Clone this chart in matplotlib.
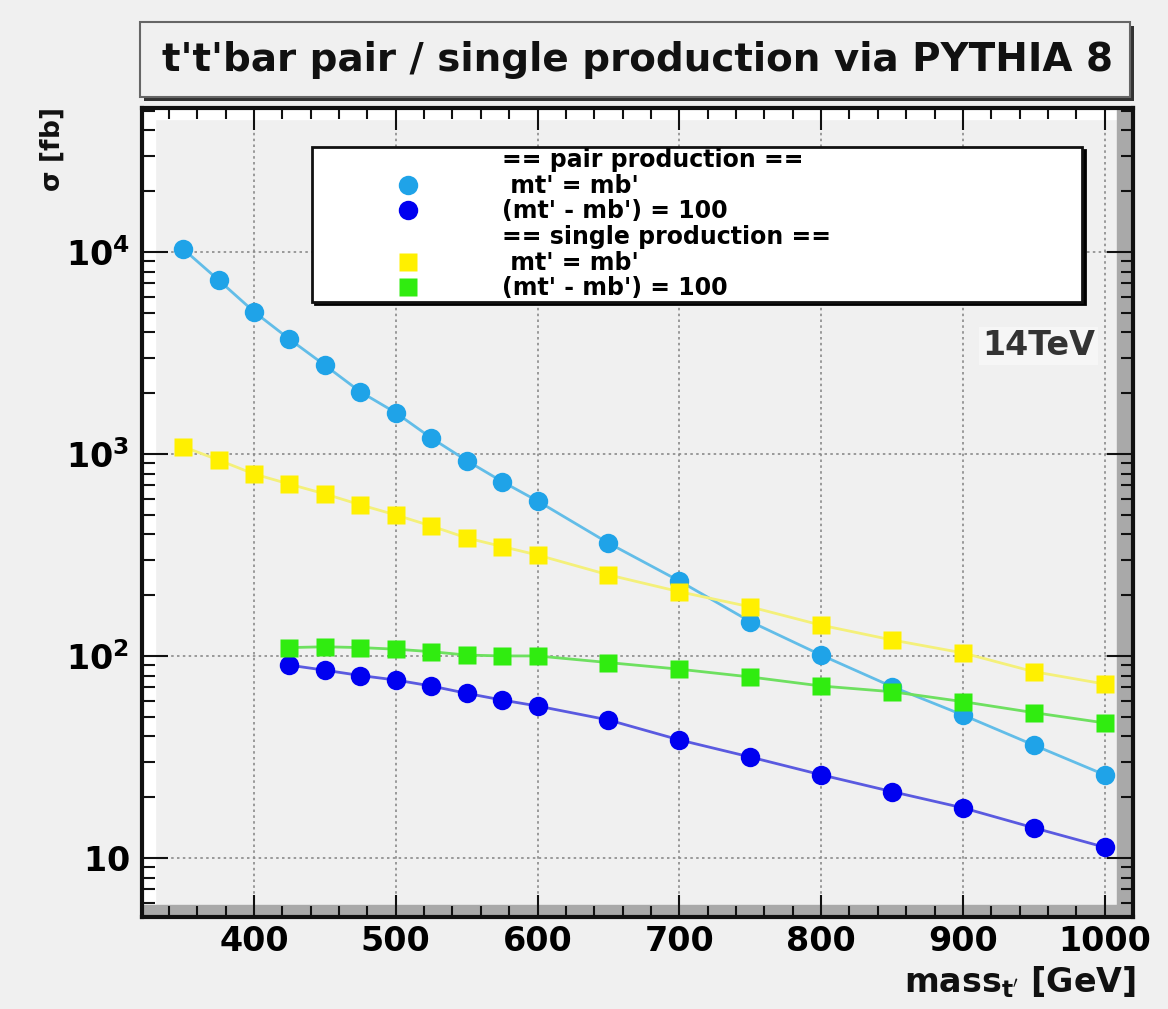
import numpy as np
import matplotlib
matplotlib.use('Agg')
import matplotlib.pyplot as plt
from matplotlib.lines import Line2D
from matplotlib.patches import Rectangle
from matplotlib.ticker import LogLocator, FuncFormatter, MultipleLocator, NullFormatter

# masses [GeV]
mass_eq = [350, 375, 400, 425, 450, 475, 500, 525, 550, 575, 600,
           650, 700, 750, 800, 850, 900, 950, 1000]
mass_split = [425, 450, 475, 500, 525, 550, 575, 600,
              650, 700, 750, 800, 850, 900, 950, 1000]

# cross sections [fb]
pair_eq = [10350, 7260, 5060, 3700, 2750, 2030, 1600, 1200, 927, 730, 585,
           362, 235, 148, 101, 70.5, 51, 36.2, 25.8]
pair_split = [90, 85, 80, 76, 71, 65.3, 60.5, 56.5,
              48.2, 38.4, 31.6, 25.8, 21.3, 17.7, 14.1, 11.3]
single_eq = [1087, 933, 796, 709, 634, 560, 499, 440, 384, 348, 316,
             252, 208, 175, 142, 120, 103.5, 83.6, 72.6]
single_split = [110, 111, 110, 108, 105, 101, 100, 100,
                92.7, 86, 78.7, 71, 66.5, 59.4, 52.4, 46.6]

legend_labels = ["== pair production ==", " mt' = mb'", "(mt' - mb') = 100",
                 "== single production ==", " mt' = mb'", "(mt' - mb') = 100"]

bg = '#f0f0f0'
fig = plt.figure(figsize=(11.68, 10.09), dpi=100, facecolor=bg)
W, H = 1168, 1009
ax = fig.add_axes([142 / W, 1 - 917 / H, (1133 - 142) / W, (917 - 108) / H])
ax.set_facecolor(bg)
ax.set_axisbelow('line')

# ROOT-like 3D frame border
ax.add_patch(Rectangle((0, 0), 0.013, 1, transform=ax.transAxes, color='white', zorder=1.2))
ax.add_patch(Rectangle((0, 1 - 0.014), 1, 0.014, transform=ax.transAxes, color='white', zorder=1.2))
ax.add_patch(Rectangle((0, 0), 1, 0.015, transform=ax.transAxes, color='#a9a9a9', zorder=1.3))
ax.add_patch(Rectangle((1 - 0.016, 0), 0.016, 1, transform=ax.transAxes, color='#a9a9a9', zorder=1.3))

ms = 14
ax.plot(mass_eq, pair_eq, '-', color='#62bde8', lw=2, zorder=2)
ax.plot(mass_eq, pair_eq, 'o', color='#1fa3e8', ms=ms, mec='none', zorder=3)
ax.plot(mass_split, pair_split, '-', color='#5a5ae0', lw=2, zorder=2)
ax.plot(mass_split, pair_split, 'o', color='#0000f0', ms=ms, mec='none', zorder=3)
ax.plot(mass_eq, single_eq, '-', color='#f4f07a', lw=2, zorder=2)
ax.plot(mass_eq, single_eq, 's', color='#fff000', ms=ms - 1, mec='none', zorder=3)
ax.plot(mass_split, single_split, '-', color='#6ee060', lw=2, zorder=2)
ax.plot(mass_split, single_split, 's', color='#30ec10', ms=ms - 1, mec='none', zorder=3)

ax.set_yscale('log')
ax.set_xlim(321, 1020)
ax.set_ylim(5.1, 51600)

ax.xaxis.set_major_locator(MultipleLocator(100))
ax.xaxis.set_minor_locator(MultipleLocator(20))
ax.yaxis.set_major_locator(LogLocator(base=10))
ax.yaxis.set_minor_locator(LogLocator(base=10, subs=np.arange(2, 10)))
ax.yaxis.set_minor_formatter(NullFormatter())


def yfmt(v, pos):
    e = int(round(np.log10(v)))
    if e == 1:
        return r'$\mathbf{10}$'
    return r'$\mathbf{10^{%d}}$' % e


ax.yaxis.set_major_formatter(FuncFormatter(yfmt))

ax.tick_params(which='both', direction='in', top=True, right=True, color='#111')
ax.tick_params(axis='x', which='major', length=16, width=1.5, labelsize=24, pad=6)
ax.tick_params(axis='x', which='minor', length=8, width=1.5)
ax.tick_params(axis='y', which='major', length=19, width=1.5, labelsize=24, pad=9)
ax.tick_params(axis='y', which='minor', length=9, width=1.5)
for lab in ax.get_xticklabels():
    lab.set_fontweight('bold')

ax.grid(True, which='major', color='#8a8a8a', lw=1.2, linestyle=(0, (1.5, 2)))
for sp in ax.spines.values():
    sp.set_linewidth(3)
    sp.set_color('#111')

# legend
handles = [
    Line2D([], [], linestyle='none'),
    Line2D([], [], linestyle='none', marker='o', color='#1fa3e8', ms=ms, mec='none'),
    Line2D([], [], linestyle='none', marker='o', color='#0000f0', ms=ms, mec='none'),
    Line2D([], [], linestyle='none'),
    Line2D([], [], linestyle='none', marker='s', color='#fff000', ms=ms - 1, mec='none'),
    Line2D([], [], linestyle='none', marker='s', color='#30ec10', ms=ms - 1, mec='none'),
]
leg = ax.legend(handles, legend_labels, loc='upper left',
                bbox_to_anchor=(0.1715, 0.765, 0.777, 0.1868), mode='expand',
                prop={'size': 17, 'weight': 'bold'}, numpoints=1,
                handlelength=8.0, handletextpad=0.0, labelspacing=0.07,
                borderpad=0.05, borderaxespad=0, frameon=True, fancybox=False,
                shadow={'color': 'black', 'alpha': 1})
leg.get_frame().set_facecolor('white')
leg.get_frame().set_edgecolor('#111')
leg.get_frame().set_linewidth(2)
leg.get_frame().set_alpha(1)

ax.text(0.9617, 0.706, '14TeV', transform=ax.transAxes, ha='right', va='center',
        fontsize=24, fontweight='bold', color='#333',
        bbox=dict(facecolor='#f6f6f6', edgecolor='none', pad=2), zorder=4)

# title box
fig.patches.append(Rectangle((144 / W, 1 - 101 / H), 990 / W, 75 / H, transform=fig.transFigure,
                             facecolor='#333', edgecolor='none', zorder=1))
fig.patches.append(Rectangle((140 / W, 1 - 97 / H), 990 / W, 75 / H, transform=fig.transFigure,
                             facecolor=bg, edgecolor='#666', lw=1.5, zorder=2))
fig.text(637 / W, 1 - 60 / H, "t't'bar pair / single production via PYTHIA 8",
         ha='center', va='center', fontsize=28, fontweight='bold', color='#111', zorder=3)

fig.text(52 / W, 1 - 108 / H, r'$\mathbf{\sigma}$ [fb]', rotation=90, ha='center', va='top',
         fontsize=19, fontweight='bold', color='#111')
fig.text(1136 / W, 1 - 1000 / H, r"mass$_{\mathbf{t'}}$ [GeV]", ha='right', va='bottom',
         fontsize=24, fontweight='bold', color='#111')

fig.savefig('out.png', dpi=100, facecolor=bg)
